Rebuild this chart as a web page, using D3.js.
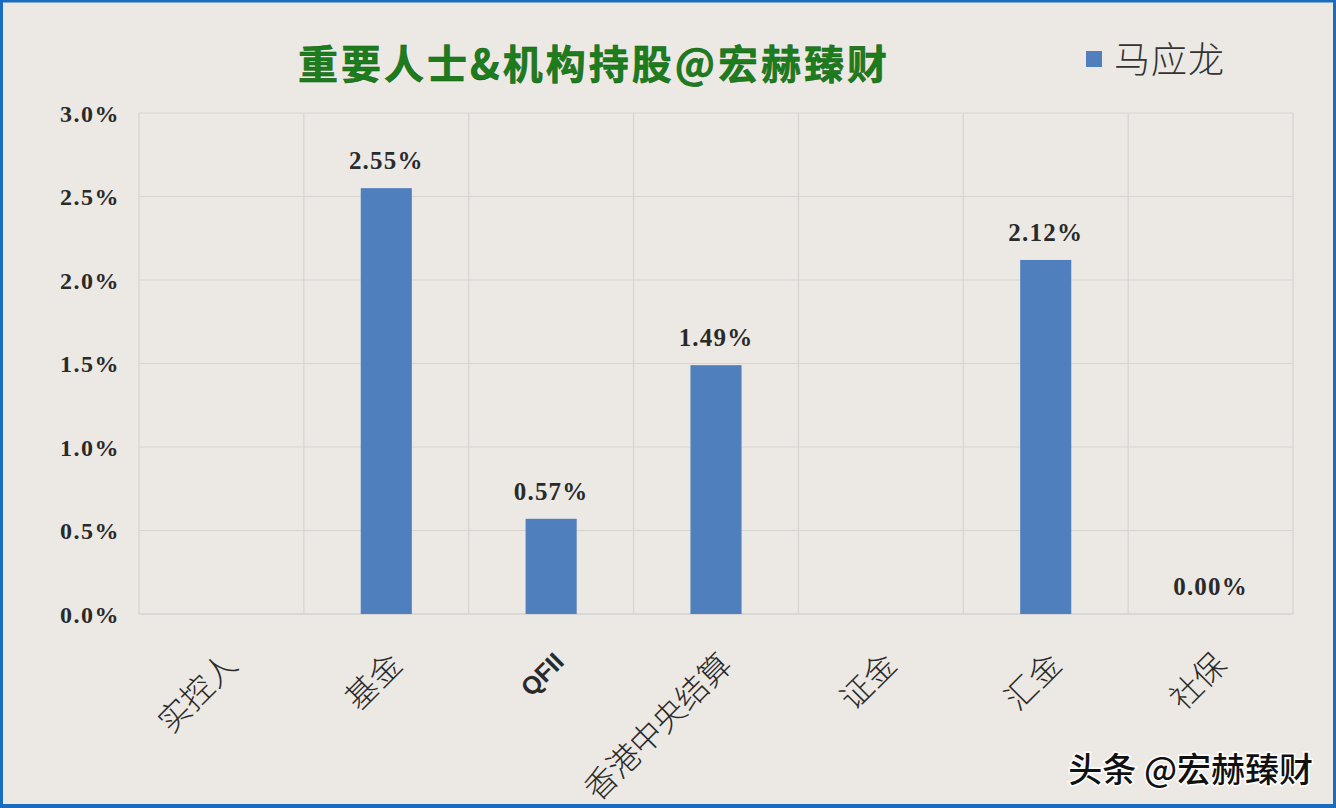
<!DOCTYPE html>
<html><head><meta charset="utf-8">
<script src="https://cdn.jsdelivr.net/npm/d3@7"></script>
<style>
html,body{margin:0;padding:0;background:#ece9e5;}
svg{display:block;}
</style></head>
<body>
<script>
const categories = ["实控人","基金","QFII","香港中央结算","证金","汇金","社保"];
const values = [null, 2.55, 0.57, 1.49, null, 2.12, 0.00];
const yTicks = [0, 0.5, 1.0, 1.5, 2.0, 2.5, 3.0];
const seriesName = "马应龙";
const titleText = "重要人士&机构持股@宏赫臻财";
const watermark = "头条 @宏赫臻财";

const W = 1336, H = 808;
const svg = d3.select("body").append("svg").attr("width", W).attr("height", H);

svg.append("rect").attr("x",0).attr("y",0).attr("width",W).attr("height",H).attr("fill","#ece9e5");

const m = {left:139, right:1293, top:113, bottom:614};
const x = d3.scaleBand().domain(categories).range([m.left, m.right]).paddingInner(0).paddingOuter(0);
const y = d3.scaleLinear().domain([0,3.0]).range([m.bottom, m.top]);

// horizontal grid
svg.append("g").selectAll("line").data(yTicks).join("line")
  .attr("x1", m.left).attr("x2", m.right)
  .attr("y1", d=>y(d)).attr("y2", d=>y(d))
  .attr("stroke", d=> d===0 ? "#c8c8c8" : "#d6d4d1").attr("stroke-width",1.2);
// vertical grid
const vx = categories.map(c=>x(c)).concat([x(categories[categories.length-1])+x.bandwidth()]);
svg.append("g").selectAll("line").data(vx).join("line")
  .attr("x1", d=>d).attr("x2", d=>d)
  .attr("y1", m.top).attr("y2", m.bottom)
  .attr("stroke", "#d6d4d1").attr("stroke-width",1.2);

// y axis labels
const yAxis = d3.axisLeft(y).tickValues(yTicks).tickFormat(d=>d.toFixed(1)+"%").tickSize(0).tickPadding(19);
const ga = svg.append("g").attr("transform",`translate(${m.left},0)`).call(yAxis);
ga.select(".domain").remove();
ga.selectAll("text").attr("font-family","'Liberation Serif', serif").attr("font-weight","bold")
  .attr("font-size",24).attr("letter-spacing",1.5).attr("fill","#2a2a2a").attr("dy","0.35em");

// bars
const bw = x.bandwidth()*0.31;
const data = categories.map((c,i)=>({c, v: values[i]}));
svg.append("g").selectAll("rect").data(data.filter(d=>d.v!==null && d.v>0)).join("rect")
  .attr("x", d=>x(d.c)+x.bandwidth()/2-bw/2)
  .attr("width", bw)
  .attr("y", d=>y(d.v))
  .attr("height", d=>y(0)-y(d.v))
  .attr("fill","#4f7fbd");

// value labels
svg.append("g").selectAll("text").data(data.filter(d=>d.v!==null)).join("text")
  .attr("x", d=>x(d.c)+x.bandwidth()/2)
  .attr("y", d=>y(d.v)-19)
  .attr("text-anchor","middle")
  .attr("font-family","'Liberation Serif', serif").attr("font-weight","bold")
  .attr("font-size",25).attr("letter-spacing",1.2).attr("fill","#2a2a2a")
  .text(d=>d.v.toFixed(2)+"%");

// x labels rotated
svg.append("g").selectAll("text").data(categories).join("text")
  .attr("transform", c=>`translate(${x(c)+x.bandwidth()/2+2},${m.bottom+37}) rotate(-45)`)
  .attr("text-anchor","end")
  .attr("dy","0.7em")
  .attr("font-family", c=> c==="QFII" ? "'Liberation Sans', sans-serif" : "'Noto Sans CJK SC', sans-serif")
  .attr("font-weight", c=> c==="QFII" ? "bold" : 300)
  .attr("font-size", c=> c==="QFII" ? 25 : 32)
  .attr("fill","#2a2a2a")
  .text(c=>c);

// title
svg.append("text").attr("x", 594).attr("y", 79).attr("text-anchor","middle")
  .attr("font-family","'Noto Sans CJK SC', sans-serif").attr("font-weight","bold")
  .attr("font-size",40).attr("fill","#1d7d1d").attr("stroke","#0f5a0f").attr("stroke-width",0.5)
  .attr("letter-spacing",3)
  .text(titleText);

// legend
svg.append("rect").attr("x",1086).attr("y",51).attr("width",16).attr("height",16).attr("fill","#4f7fbd");
svg.append("text").attr("x",1114).attr("y",73)
  .attr("font-family","'Noto Sans CJK SC', sans-serif").attr("font-weight",300)
  .attr("font-size",36).attr("letter-spacing",1).attr("fill","#333").text(seriesName);

// watermark
svg.append("text").attr("x",1313).attr("y",782).attr("text-anchor","end")
  .attr("font-family","'Noto Sans CJK SC', sans-serif").attr("font-weight",500)
  .attr("font-size",34).attr("fill","#111")
  .attr("stroke","#ffffff").attr("stroke-width",3).attr("paint-order","stroke")
  .text(watermark);

// frame
svg.append("rect").attr("x",1.5).attr("y",1).attr("width",W-3).attr("height",H-3)
  .attr("fill","none").attr("stroke","#1a6cc0").attr("stroke-width",3);
svg.append("line").attr("x1",0).attr("x2",W).attr("y1",H-2).attr("y2",H-2)
  .attr("stroke","#1a6cc0").attr("stroke-width",4);
</script>
</body></html>
